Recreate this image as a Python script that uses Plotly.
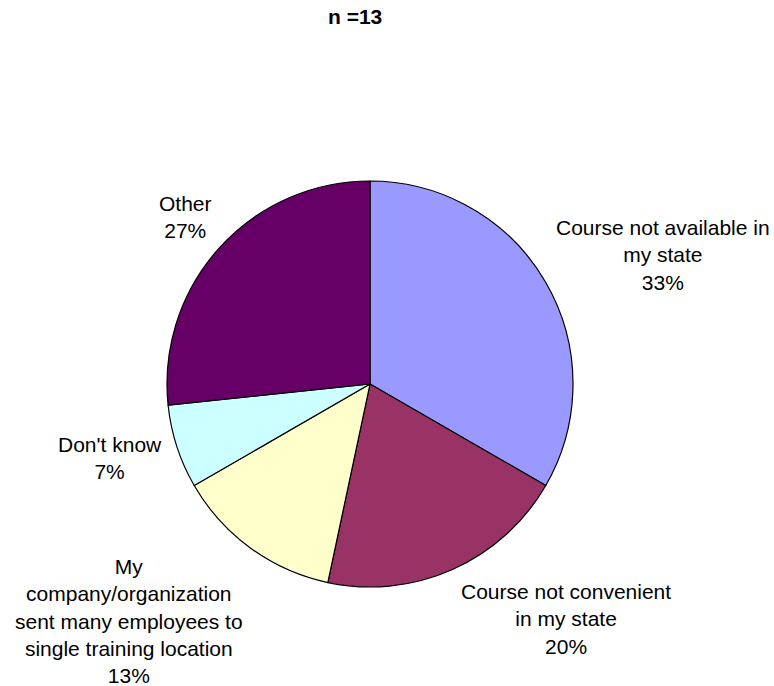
import plotly.graph_objects as go

categories = [
    "Course not available in<br>my state",
    "Course not convenient<br>in my state",
    "My<br>company/organization<br>sent many employees to<br>single training location",
    "Don't know",
    "Other",
]
counts = [5, 3, 2, 1, 4]
colors = ["#9999FF", "#993366", "#FFFFCC", "#CCFFFF", "#660066"]
title_text = "n =13"

W, H = 774, 686
cx, cy, r = 370, 384, 203

# label anchor positions in pixels (layout)
label_pos = [(663, 255), (566, 618.5), (129, 620.5), (110, 457.5), (185, 217)]

total = sum(counts)
pcts = [round(100 * c / total) for c in counts]

fig = go.Figure(go.Pie(
    labels=categories,
    values=counts,
    sort=False,
    direction="clockwise",
    rotation=0,
    marker=dict(colors=colors, line=dict(color="#000000", width=1.2)),
    textinfo="none",
    hoverinfo="none",
    showlegend=False,
    domain=dict(x=[(cx - r) / W, (cx + r) / W], y=[(H - cy - r) / H, (H - cy + r) / H]),
))

annotations = []
for cat, p, (px, py) in zip(categories, pcts, label_pos):
    annotations.append(dict(
        x=px / W, y=1 - py / H, xref="paper", yref="paper",
        text=f"{cat}<br>{p}%", showarrow=False,
        xanchor="center", yanchor="middle",
        font=dict(family="Liberation Sans, Arial", size=21, color="#000000"),
    ))
annotations.append(dict(
    x=355 / W, y=1 - 17 / H, xref="paper", yref="paper",
    text=f"<b>{title_text}</b>", showarrow=False,
    xanchor="center", yanchor="middle",
    font=dict(family="Liberation Sans, Arial", size=21, color="#000000"),
))

fig.update_layout(
    width=W, height=H,
    margin=dict(l=0, r=0, t=0, b=0),
    paper_bgcolor="#FFFFFF",
    plot_bgcolor="#FFFFFF",
    annotations=annotations,
)

fig.write_html("out.html")
